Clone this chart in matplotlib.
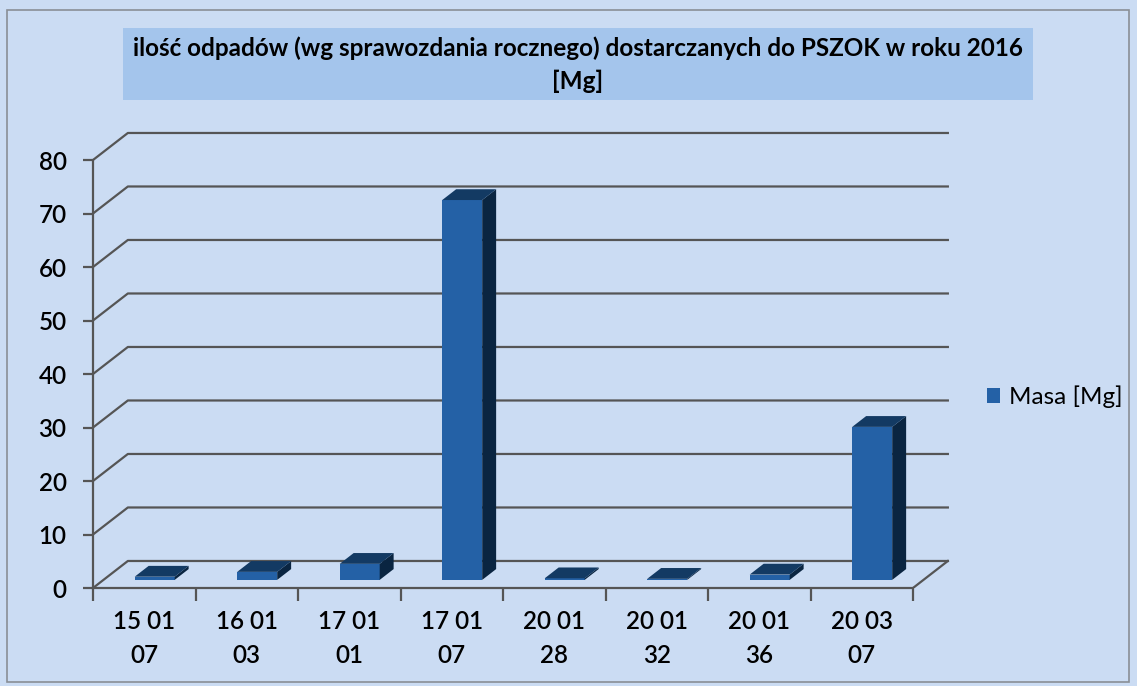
import numpy as np
import matplotlib as mpl
import matplotlib.pyplot as plt
from matplotlib.patches import Rectangle, Polygon

categories = ['15 01\n07', '16 01\n03', '17 01\n01', '17 01\n07',
              '20 01\n28', '20 01\n32', '20 01\n36', '20 03\n07']
masa = [0.6, 1.5, 3.0, 71.0, 0.3, 0.2, 1.0, 28.6]
yticks = [0, 10, 20, 30, 40, 50, 60, 70, 80]

title = u'ilość odpadów (wg sprawozdania rocznego) dostarczanych do PSZOK w roku 2016\n[Mg]'
series_name = 'Masa [Mg]'

bg = '#cbdcf3'
front_c = '#2461a6'
side_c = '#0a2541'
top_c = '#133a63'
grid_c = '#555555'

mpl.rcParams['font.family'] = ['Lato', 'DejaVu Sans']

W, H = 1137, 686
fig = plt.figure(figsize=(W / 100, H / 100), dpi=100, facecolor=bg)

# plot area in pixels: x=0 at 93px, 102.5 px per category; y=0 at 588px, 5.35 px per unit
px_x, px_y = 102.5, 5.35
x0_px, y0_px = 93, 588
xmax, ymax = 8.4, 85.5
ax = fig.add_axes([x0_px / W, (H - y0_px) / H, xmax * px_x / W, ymax * px_y / H])
ax.set_facecolor('none')
ax.set_xlim(0, xmax)
ax.set_ylim(0, ymax)

dx, dy = 0.34, 5.05  # depth of the 3d box
n = len(categories)

# back wall gridlines + left wall slants
for v in yticks:
    ax.plot([0, dx, n + dx], [v, v + dy, v + dy], color=grid_c, lw=1.6, zorder=1)
# floor
ax.plot([n, n + dx], [0, dy], color=grid_c, lw=1.6, zorder=1)

# bars
w, f, d = 0.39, 0.3, 0.4
for i, v in enumerate(masa):
    xl = i + (1 - w) / 2 + f * dx
    yb = f * dy
    ax.add_patch(Rectangle((xl, yb), w, v, fc=front_c, ec='none', zorder=3))
    ax.add_patch(Polygon([(xl + w, yb), (xl + w + d * dx, yb + d * dy),
                          (xl + w + d * dx, yb + v + d * dy), (xl + w, yb + v)],
                         closed=True, fc=side_c, ec='none', zorder=3))
    ax.add_patch(Polygon([(xl, yb + v), (xl + w, yb + v),
                          (xl + w + d * dx, yb + v + d * dy), (xl + d * dx, yb + v + d * dy)],
                         closed=True, fc=top_c, ec='none', zorder=3))

for s in ['top', 'right']:
    ax.spines[s].set_visible(False)
ax.spines['left'].set_bounds(0, 80)
ax.spines['bottom'].set_bounds(0, n)
for s in ['left', 'bottom']:
    ax.spines[s].set_color(grid_c)
    ax.spines[s].set_linewidth(1.6)

ax.set_yticks(yticks)
ax.set_yticklabels([str(t) for t in yticks], fontsize=17.5, fontweight='semibold')
ax.set_xticks(np.arange(n + 1))
ax.set_xticklabels([])
ax.set_xticks(np.arange(n) + 0.5, minor=True)
ax.set_xticklabels(categories, minor=True, fontsize=17.5, fontweight='semibold', linespacing=1.55)
ax.tick_params(axis='y', length=7, width=1.6, color=grid_c, pad=12)
ax.tick_params(axis='x', which='major', length=9, width=1.6, color=grid_c)
ax.tick_params(axis='x', which='minor', length=0, pad=16)

# legend
ax.add_patch(Rectangle((0, 0), 0, 0, fc=front_c, label=series_name))
fig.legend(handles=[ax.patches[-1]], loc='center left', bbox_to_anchor=(987 / W, 1 - 397 / H),
           frameon=False, borderpad=0, borderaxespad=0, handlelength=0.55, handleheight=0.55,
           handletextpad=0.35, prop={'size': 17.5})

# title box
fig.patches.append(Rectangle((123 / W, 1 - 100 / H), 910 / W, 72 / H, transform=fig.transFigure,
                             fc='#a4c5ec', ec='none', zorder=0))
fig.text(578 / W, 1 - 65 / H, title, ha='center', va='center', fontsize=17.5,
         fontweight='bold', linespacing=1.5)

# chart border
fig.patches.append(Rectangle((7 / W, 4 / H), 1122 / W, 672 / H, transform=fig.transFigure,
                             fc='none', ec='#8a8f96', lw=1.2))

fig.savefig('out.png', dpi=100, facecolor=bg)
